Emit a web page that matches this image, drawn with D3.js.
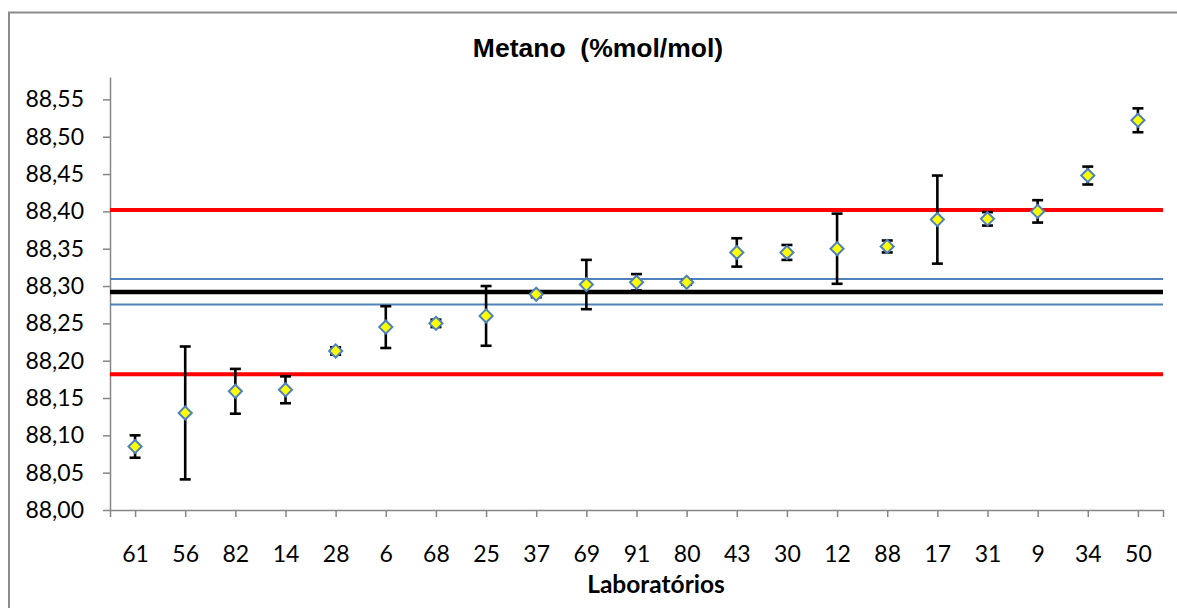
<!DOCTYPE html>
<html>
<head>
<meta charset="utf-8">
<script src="https://cdn.jsdelivr.net/npm/d3@7"></script>
<style>
  html, body { margin: 0; background: #fff; overflow: hidden; }
  #chart { width: 1177px; height: 608px; }
  #chart svg { display: block; }
</style>
</head>
<body>
<div id="chart"></div>
<script>
// Laboratories in plotted order
const labs = ['61', '56', '82', '14', '28', '6', '68', '25', '37', '69', '91',
  '80', '43', '30', '12', '88', '17', '31', '9', '34', '50'];
// Reported methane values (%mol/mol)
const values = [88.085, 88.130, 88.159, 88.161, 88.213, 88.245, 88.250, 88.260, 88.289, 88.302, 88.305,
  88.305, 88.345, 88.345, 88.350, 88.353, 88.389, 88.390, 88.400, 88.448, 88.522];
// Expanded uncertainties (error bar half-length)
const uncert = [0.015, 0.089, 0.030, 0.018, 0.005, 0.028, 0.005, 0.040, 0.004, 0.033, 0.011,
  0.003, 0.019, 0.010, 0.047, 0.008, 0.059, 0.009, 0.015, 0.012, 0.016];
// Assigned value, its uncertainty and the acceptance limits
const assigned = [88.292];
const assignedU = [88.2752, 88.3095];
const limits = [88.182, 88.402];
const yTicks = [88.00, 88.05, 88.10, 88.15, 88.20, 88.25, 88.30, 88.35, 88.40, 88.45, 88.50, 88.55];

const width = 1177;
const height = 608;
const margin = { top: 77, right: 14, bottom: 98, left: 110 };

const svg = d3.select('#chart')
  .append('svg')
  .attr('width', width)
  .attr('height', height);

// outer chart frame: only the top and left edges fall inside the picture
svg.append('path')
  .attr('d', `M9,${height}V12.5H${width}`)
  .attr('fill', 'none')
  .attr('stroke', '#8c8c8c')
  .attr('stroke-width', 2);

const x = d3.scalePoint()
  .domain(labs)
  .range([margin.left, width - margin.right])
  .padding(0.5);

const y = d3.scaleLinear()
  .domain([88.0, 88.58])
  .range([height - margin.bottom, margin.top]);

const comma = d3.formatLocale({ decimal: ',', thousands: '.', grouping: [3], currency: ['', ''] });
const fmt = comma.format('.2f');

const tickFont = 'Lato, "Open Sans", sans-serif';

// y axis
const yAxis = svg.append('g')
  .attr('transform', `translate(${margin.left},0)`)
  .call(d3.axisLeft(y).tickValues(yTicks).tickFormat(fmt).tickSize(7).tickSizeOuter(0).tickPadding(19));
yAxis.selectAll('path, line').attr('stroke', '#868686').attr('stroke-width', 1.5);
yAxis.selectAll('text')
  .style('font-family', tickFont)
  .style('font-size', '23px')
  .attr('fill', '#000');

// x axis
const xAxis = svg.append('g')
  .attr('transform', `translate(0,${height - margin.bottom})`)
  .call(d3.axisBottom(x).tickSize(7).tickSizeOuter(7));
xAxis.selectAll('path, line').attr('stroke', '#868686').attr('stroke-width', 1.5);
xAxis.selectAll('text')
  .attr('y', 52)
  .attr('dy', null)
  .style('font-family', tickFont)
  .style('font-size', '23px')
  .attr('fill', '#000');

// reference lines
const x0 = margin.left;
const x1 = width - margin.right;
const refLines = [
  ...limits.map(v => ({ v, color: '#ff0000', w: 4 })),
  ...assignedU.map(v => ({ v, color: '#4f81bd', w: 2 })),
  ...assigned.map(v => ({ v, color: '#000000', w: 4.5 }))
];
svg.append('g')
  .selectAll('line')
  .data(refLines)
  .join('line')
  .attr('x1', x0)
  .attr('x2', x1)
  .attr('y1', d => y(d.v))
  .attr('y2', d => y(d.v))
  .attr('stroke', d => d.color)
  .attr('stroke-width', d => d.w);

// error bars
const pts = labs.map((lab, i) => ({ lab, v: values[i], u: uncert[i] }));
const cap = 5.5;
const eb = svg.append('g')
  .attr('stroke', '#000')
  .attr('stroke-width', 2.6);
eb.selectAll('.stem')
  .data(pts)
  .join('line')
  .attr('class', 'stem')
  .attr('x1', d => x(d.lab))
  .attr('x2', d => x(d.lab))
  .attr('y1', d => y(d.v + d.u))
  .attr('y2', d => y(d.v - d.u));
eb.selectAll('.capTop')
  .data(pts)
  .join('line')
  .attr('class', 'capTop')
  .attr('x1', d => x(d.lab) - cap)
  .attr('x2', d => x(d.lab) + cap)
  .attr('y1', d => y(d.v + d.u))
  .attr('y2', d => y(d.v + d.u));
eb.selectAll('.capBot')
  .data(pts)
  .join('line')
  .attr('class', 'capBot')
  .attr('x1', d => x(d.lab) - cap)
  .attr('x2', d => x(d.lab) + cap)
  .attr('y1', d => y(d.v - d.u))
  .attr('y2', d => y(d.v - d.u));

// diamond markers
const diamond = d3.symbol().type(d3.symbolDiamond2).size(110);
svg.append('g')
  .selectAll('path')
  .data(pts)
  .join('path')
  .attr('transform', d => `translate(${x(d.lab)},${y(d.v)})`)
  .attr('d', diamond)
  .attr('fill', '#ffff00')
  .attr('stroke', '#4f81bd')
  .attr('stroke-width', 2);

// title
svg.append('text')
  .attr('x', 598)
  .attr('y', 57)
  .attr('text-anchor', 'middle')
  .style('white-space', 'pre')
  .style('font-family', '"Liberation Sans", Arial, sans-serif')
  .style('font-weight', 'bold')
  .style('font-size', '26.5px')
  .text('Metano  (%mol/mol)');

// x axis title
svg.append('text')
  .attr('x', 656)
  .attr('y', 593)
  .attr('text-anchor', 'middle')
  .style('font-family', tickFont)
  .style('font-weight', 'bold')
  .style('font-size', '24.5px')
  .text('Laboratórios');
</script>
</body>
</html>
